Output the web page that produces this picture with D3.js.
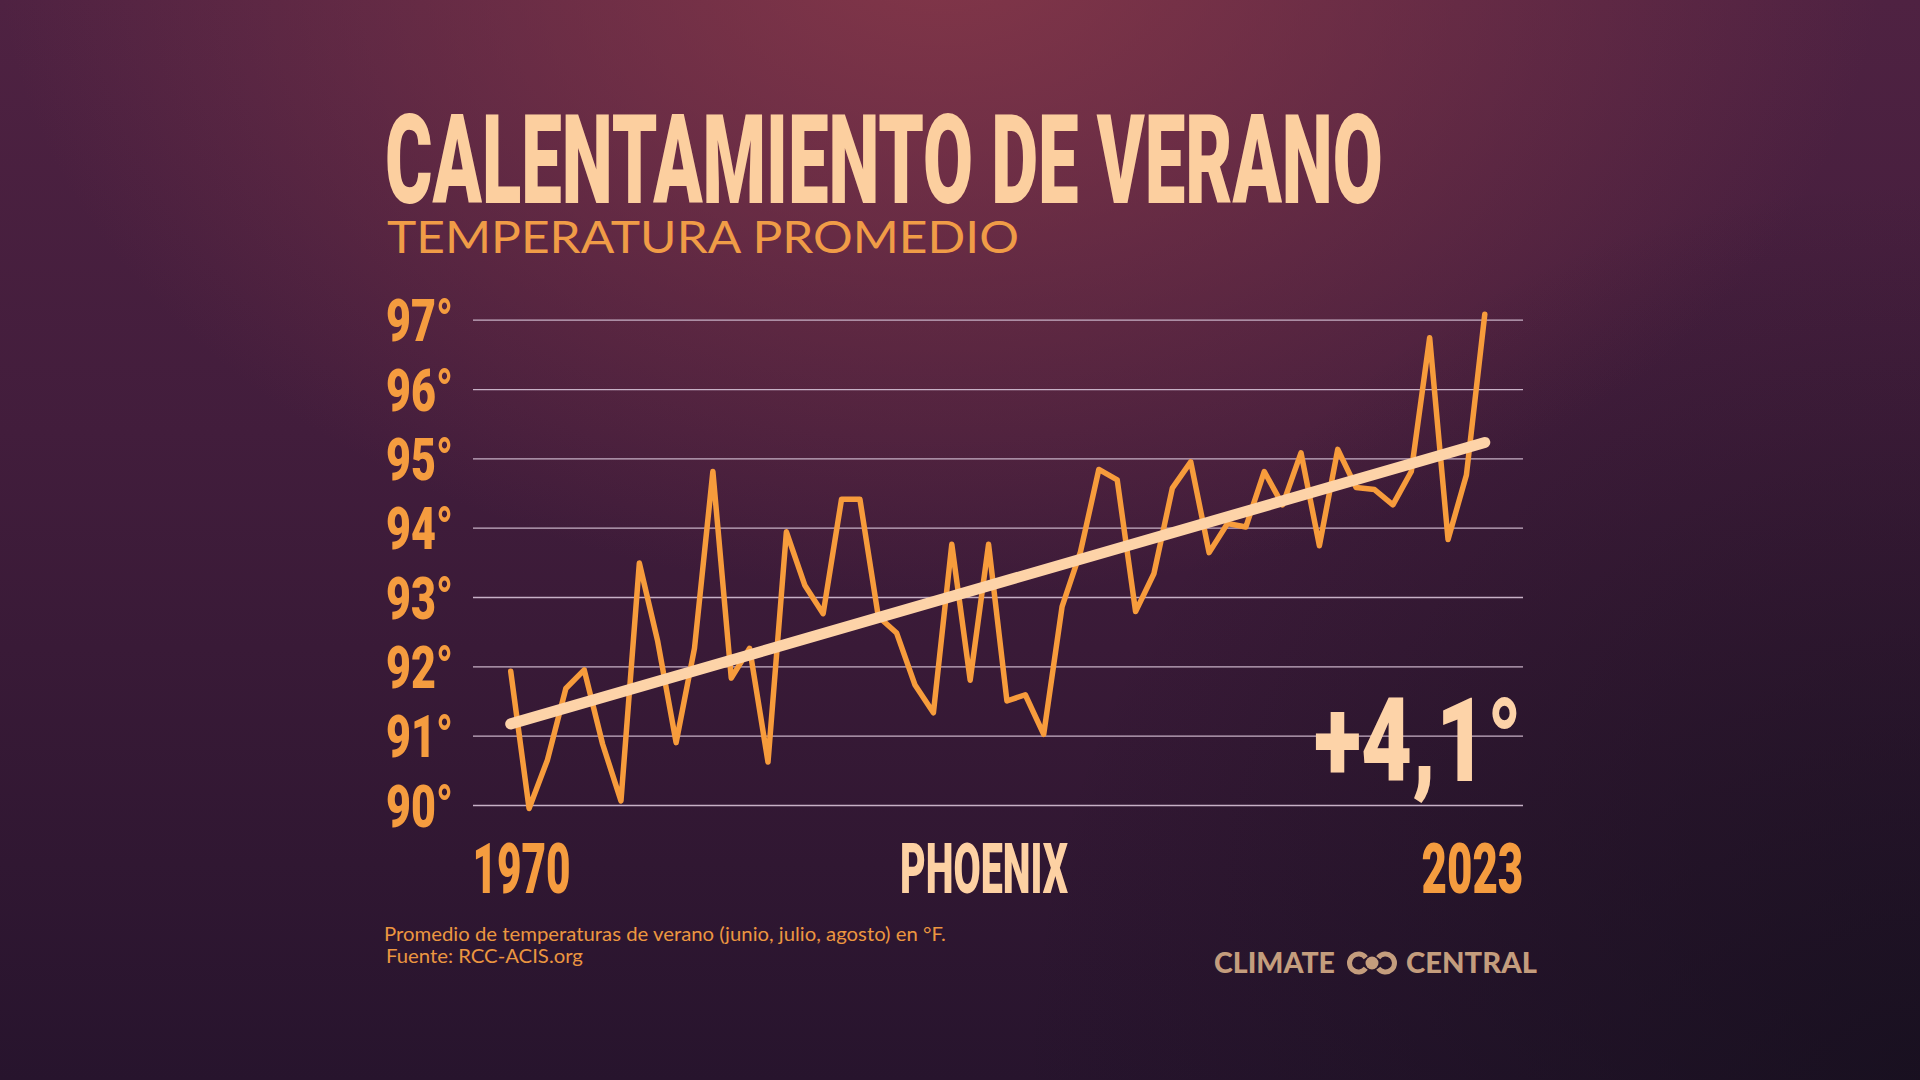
<!DOCTYPE html>
<html>
<head>
<meta charset="utf-8">
<script src="https://cdn.jsdelivr.net/npm/d3@7"></script>
<style>
  html, body { margin: 0; padding: 0; background: #2a1530; }
  svg { display: block; }
</style>
</head>
<body>
<svg id="chart"></svg>
<script>
// data (Phoenix, summer mean temperature, F)
var years = d3.range(1970, 2024);
var temps = [91.93, 89.95, 90.65, 91.68, 91.95, 90.88, 90.06, 93.49, 92.36, 90.9,
             92.26, 94.81, 91.83, 92.26, 90.62, 93.94, 93.17, 92.76, 94.41, 94.41,
             92.72, 92.48, 91.73, 91.33, 93.76, 91.8, 93.76, 91.5, 91.59, 91.02,
             92.86, 93.65, 94.84, 94.69, 92.79, 93.34, 94.57, 94.95, 93.64, 94.06,
             94.01, 94.81, 94.33, 95.08, 93.74, 95.13, 94.58, 94.55, 94.33, 94.81,
             96.74, 93.83, 94.76, 97.08];
var trendYears = [1970, 2023];
var trendTemps = [91.17, 95.23];
var yTicks = [90, 91, 92, 93, 94, 95, 96, 97];
var yTickLabels = ["90°", "91°", "92°", "93°", "94°", "95°", "96°", "97°"];
var xLabels = ["1970", "2023"];

var screen = {width: 1920, height: 1080};
var plot = {left: 473, right: 1523, top: 319.7, bottom: 805};

var svg = d3.select("#chart")
    .attr("width", screen.width)
    .attr("height", screen.height);

// background
var defs = svg.append("defs");
var bg = defs.append("linearGradient").attr("id", "bg")
    .attr("x1", 0).attr("y1", 0).attr("x2", 0).attr("y2", 1);
bg.append("stop").attr("offset", "0%").attr("stop-color", "#4f2242");
bg.append("stop").attr("offset", "40%").attr("stop-color", "#421d3c");
bg.append("stop").attr("offset", "100%").attr("stop-color", "#27142d");

var glow = defs.append("radialGradient").attr("id", "glow")
    .attr("gradientUnits", "userSpaceOnUse")
    .attr("cx", 940).attr("cy", -60).attr("r", 820)
    .attr("gradientTransform", "translate(940,-60) scale(1.15,0.8) translate(-940,60)");
glow.append("stop").attr("offset", "0%").attr("stop-color", "#8c3a4a").attr("stop-opacity", 0.85);
glow.append("stop").attr("offset", "100%").attr("stop-color", "#8c3a4a").attr("stop-opacity", 0);

var shade = defs.append("radialGradient").attr("id", "shade")
    .attr("gradientUnits", "userSpaceOnUse")
    .attr("cx", 1920).attr("cy", 1080).attr("r", 900);
shade.append("stop").attr("offset", "0%").attr("stop-color", "#140f1c").attr("stop-opacity", 0.75);
shade.append("stop").attr("offset", "100%").attr("stop-color", "#140f1c").attr("stop-opacity", 0);

svg.append("rect").attr("width", screen.width).attr("height", screen.height).attr("fill", "url(#bg)");
svg.append("rect").attr("width", screen.width).attr("height", screen.height).attr("fill", "url(#glow)");
svg.append("rect").attr("width", screen.width).attr("height", screen.height).attr("fill", "url(#shade)");

// squeeze a text horizontally so it fills the given width
var fitText = function(sel, x, y, w){
    sel.each(function(){
        var len = this.getComputedTextLength();
        d3.select(this).attr("transform",
            "translate(" + x + "," + y + ") scale(" + (w / len) + ",1)");
    });
};

var bigFont = "Roboto, 'DejaVu Sans', sans-serif";
var smallFont = "Lato, 'Open Sans', sans-serif";

// scales
var xScale = d3.scaleLinear()
    .domain([1970, 2023])
    .range([510.7, 1484.8]);
var yScale = d3.scaleLinear()
    .domain([90, 97])
    .range([plot.bottom, plot.top]);

// gridlines
var grid = d3.axisRight(yScale)
    .tickValues(yTicks)
    .tickSize(plot.right - plot.left)
    .tickFormat("");
svg.append("g")
    .attr("id", "grid")
    .attr("transform", "translate(" + plot.left + ",0)")
    .call(grid)
    .call(function(g){ g.select(".domain").remove(); })
    .selectAll("line")
    .attr("stroke", "#c7b1c6")
    .attr("stroke-width", 1.3);

// y labels
svg.append("g").selectAll("text")
    .data(yTicks)
    .enter()
    .append("text")
    .style("font-family", bigFont)
    .style("font-weight", 900)
    .style("font-size", "60px")
    .attr("fill", "#f59c3f")
    .text(function(d, i){ return yTickLabels[i]; })
    .each(function(d){ fitText(d3.select(this), 386, yScale(d) + 21.5, 67); });

// temperature line
var line = d3.line()
    .x(function(d, i){ return xScale(years[i]); })
    .y(function(d){ return yScale(d); });

svg.append("path")
    .datum(temps)
    .attr("d", line)
    .attr("fill", "none")
    .attr("stroke", "#f79c3c")
    .attr("stroke-width", 5.5)
    .attr("stroke-linejoin", "round")
    .attr("stroke-linecap", "round");

// trend line
var trendLine = d3.line()
    .x(function(d, i){ return xScale(trendYears[i]); })
    .y(function(d){ return yScale(d); });

svg.append("path")
    .datum(trendTemps)
    .attr("d", trendLine)
    .attr("fill", "none")
    .attr("stroke", "#fdd3a8")
    .attr("stroke-width", 11)
    .attr("stroke-linecap", "round");

// titles
svg.append("text")
    .style("font-family", bigFont)
    .style("font-weight", 900)
    .style("font-size", "124px")
    .attr("fill", "#fccf9f")
    .text("CALENTAMIENTO DE VERANO")
    .call(fitText, 385, 203, 998);

svg.append("text")
    .style("font-family", smallFont)
    .style("font-weight", 400)
    .style("font-size", "44px")
    .attr("fill", "#f09c47")
    .text("TEMPERATURA PROMEDIO")
    .call(fitText, 387, 253, 632);

// big change number
svg.append("text")
    .style("font-family", bigFont)
    .style("font-weight", 900)
    .style("font-size", "117px")
    .attr("fill", "#fdd3a8")
    .text("+4,1°")
    .call(fitText, 1314, 781, 208);

// x labels
var xLabelPos = [{x: 472.6, w: 98}, {x: 1421.6, w: 101.7}];
svg.append("g").selectAll("text")
    .data(xLabels)
    .enter()
    .append("text")
    .style("font-family", bigFont)
    .style("font-weight", 900)
    .style("font-size", "70px")
    .attr("fill", "#f59c3f")
    .text(function(d){ return d; })
    .each(function(d, i){ fitText(d3.select(this), xLabelPos[i].x, 892.7, xLabelPos[i].w); });

svg.append("text")
    .style("font-family", bigFont)
    .style("font-weight", 900)
    .style("font-size", "70px")
    .attr("fill", "#fdd1a3")
    .text("PHOENIX")
    .call(fitText, 900, 892.7, 168);

// footnote
svg.append("text")
    .style("font-family", smallFont)
    .style("font-size", "20px")
    .attr("fill", "#ec9640")
    .text("Promedio de temperaturas de verano (junio, julio, agosto) en °F.")
    .call(fitText, 384, 940.5, 562);

svg.append("text")
    .style("font-family", smallFont)
    .style("font-size", "20px")
    .attr("fill", "#ec9640")
    .text("Fuente: RCC-ACIS.org")
    .call(fitText, 386, 962.5, 197);

// logo
var logo = svg.append("g").attr("fill", "#c49d7d");
logo.append("text")
    .style("font-family", smallFont)
    .style("font-weight", 900)
    .style("font-size", "28px")
    .text("CLIMATE")
    .call(fitText, 1214, 973, 121);
logo.append("text")
    .style("font-family", smallFont)
    .style("font-weight", 900)
    .style("font-size", "28px")
    .text("CENTRAL")
    .call(fitText, 1406, 973, 131);

// two open rings facing each other with a dot between them
var arcC = d3.arc().innerRadius(6.5).outerRadius(11.5)
    .startAngle(Math.PI * 0.2).endAngle(Math.PI * 1.8);
logo.append("path").attr("d", arcC)
    .attr("transform", "translate(1358.5,963) rotate(90)");
logo.append("path").attr("d", arcC)
    .attr("transform", "translate(1385.5,963) rotate(-90)");
logo.append("circle").attr("cx", 1372).attr("cy", 963).attr("r", 6.5);
</script>
</body>
</html>
